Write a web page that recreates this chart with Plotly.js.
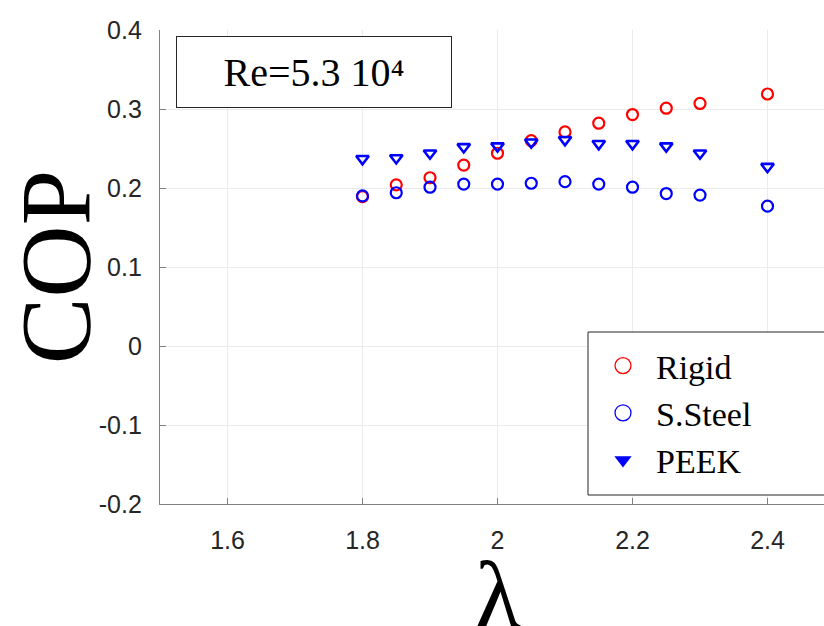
<!DOCTYPE html>
<html>
<head>
<meta charset="utf-8">
<script src="https://cdn.plot.ly/plotly-3.0.1.min.js"></script>
<style>html,body{margin:0;padding:0;overflow:hidden;background:#fff;}</style>
</head>
<body>
<div id="chart" style="width:824px;height:626px;"></div>
<script>
const lambda = [1.8, 1.85, 1.9, 1.95, 2.0, 2.05, 2.1, 2.15, 2.2, 2.25, 2.3, 2.4];
const rigid  = [0.189, 0.204, 0.213, 0.229, 0.244, 0.260, 0.271, 0.282, 0.293, 0.301, 0.307, 0.319];
const steel  = [0.190, 0.194, 0.201, 0.205, 0.205, 0.206, 0.208, 0.205, 0.201, 0.193, 0.191, 0.177];
const peek   = [0.237, 0.238, 0.244, 0.252, 0.253, 0.258, 0.261, 0.256, 0.256, 0.253, 0.244, 0.227];
const seriesNames = ['Rigid', 'S.Steel', 'PEEK'];
const xTicks = [1.6, 1.8, 2.0, 2.2, 2.4];
const xTickText = ['1.6', '1.8', '2', '2.2', '2.4'];
const yTicks = [-0.2, -0.1, 0, 0.1, 0.2, 0.3, 0.4];
const yTickText = ['-0.2', '-0.1', '0', '0.1', '0.2', '0.3', '0.4'];
const xTitle = 'λ';
const yTitle = 'COP';
const boxText = 'Re=5.3 10⁴';

const RED = '#ff0000', BLUE = '#0000ff';
const traces = [
  {x: lambda, y: rigid, name: seriesNames[0], mode: 'markers', type: 'scatter', showlegend: false,
   marker: {symbol: 'circle-open', size: 11, color: RED, line: {width: 2.2, color: RED}}},
  {x: lambda, y: steel, name: seriesNames[1], mode: 'markers', type: 'scatter', showlegend: false,
   marker: {symbol: 'circle-open', size: 11, color: BLUE, line: {width: 2.2, color: BLUE}}},
  {x: lambda, y: peek, name: seriesNames[2], mode: 'markers', type: 'scatter', showlegend: false,
   marker: {symbol: 'triangle-down-open', size: 11, color: BLUE, line: {width: 2.6, color: BLUE}}},
  // legend-only entries (styled like the reference legend)
  {x: [null], y: [null], name: seriesNames[0], mode: 'markers', type: 'scatter',
   marker: {symbol: 'circle-open', size: 16, color: RED, line: {width: 1.3, color: RED}}},
  {x: [null], y: [null], name: seriesNames[1], mode: 'markers', type: 'scatter',
   marker: {symbol: 'circle-open', size: 16, color: BLUE, line: {width: 1.3, color: BLUE}}},
  {x: [null], y: [null], name: seriesNames[2], mode: 'markers', type: 'scatter',
   marker: {symbol: 'triangle-down', size: 15, color: BLUE, line: {width: 0}}}
];

const layout = {
  width: 824, height: 626,
  margin: {l: 160, r: 0, t: 30, b: 122},
  paper_bgcolor: '#fff', plot_bgcolor: '#fff',
  showlegend: true,
  xaxis: {
    range: [1.5, 2.4837], tickvals: xTicks, ticktext: xTickText,
    showgrid: true, gridcolor: '#ebebeb', gridwidth: 1,
    zeroline: false, showline: true, linecolor: '#808080', linewidth: 1.2,
    ticks: 'inside', ticklen: 6, tickcolor: '#808080',
    ticklabelstandoff: 14,
    tickfont: {family: 'Liberation Sans, Arial, sans-serif', size: 25, color: '#262626'}
  },
  yaxis: {
    range: [-0.2, 0.4], tickvals: yTicks, ticktext: yTickText,
    showgrid: true, gridcolor: '#ebebeb', gridwidth: 1,
    zeroline: false, showline: true, linecolor: '#808080', linewidth: 1.2,
    ticks: 'inside', ticklen: 6, tickcolor: '#808080',
    ticklabelstandoff: 12,
    tickfont: {family: 'Liberation Sans, Arial, sans-serif', size: 25, color: '#262626'},
    title: {text: yTitle, font: {family: 'Liberation Serif, serif', size: 100, color: '#000'}, standoff: 16}
  },
  legend: {
    x: (590 - 160) / 664, y: (504 - 337) / 474, xanchor: 'left', yanchor: 'top',
    bgcolor: 'rgba(0,0,0,0)', borderwidth: 0,
    font: {family: 'Liberation Serif, serif', size: 34, color: '#000'},
    itemwidth: 56
  },
  shapes: [{
    type: 'rect', xref: 'paper', yref: 'paper', layer: 'above',
    x0: (588 - 160) / 664, x1: 1.02, y0: (504 - 495) / 474, y1: (504 - 332) / 474,
    fillcolor: '#fff', line: {color: '#262626', width: 1}
  }],
  annotations: [{
    xref: 'paper', yref: 'paper', x: 0.2312, y: 0.9124,
    xanchor: 'center', yanchor: 'middle', showarrow: false,
    text: boxText,
    font: {family: 'Liberation Serif, serif', size: 40, color: '#000'},
    bordercolor: '#262626', borderwidth: 1, bgcolor: '#fff',
    width: 272, height: 68, align: 'center'
  }, {
    xref: 'paper', yref: 'paper', x: (498 - 160) / 664, y: (504 - 540) / 474,
    xanchor: 'center', yanchor: 'top', showarrow: false,
    text: xTitle,
    font: {family: 'Liberation Serif, serif', size: 95, color: '#000'}
  }]
};

Plotly.newPlot('chart', traces, layout, {displayModeBar: false, staticPlot: true});
</script>
</body>
</html>
